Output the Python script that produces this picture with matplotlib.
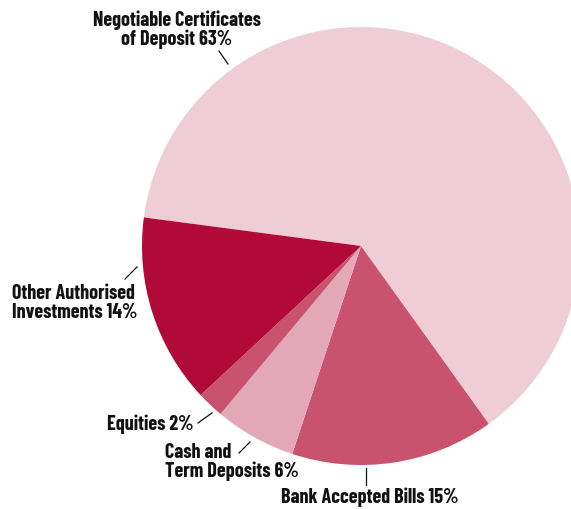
import matplotlib
matplotlib.use('Agg')
import matplotlib.pyplot as plt

# portfolio split (percent), clockwise from the top-left
labels = ['Negotiable Certificates\nof Deposit 63%', 'Bank Accepted Bills 15%',
          'Cash and\nTerm Deposits 6%', 'Equities 2%', 'Other Authorised\nInvestments 14%']
shares = [63, 15, 6, 2, 14]
colors = ['#EFCDD7', '#C9526F', '#E3A8B7', '#C9526F', '#B10A3A']

plt.rcParams['font.family'] = ['Barlow Condensed', 'DejaVu Sans']

fig = plt.figure(figsize=(5.71, 5.10), dpi=100)
# square axes in pixels so the pie sits where it does in the original (right side clipped)
ax = fig.add_axes([142 / 571, (510 - 466) / 510, 438 / 571, 438 / 510])
ax.pie(shares, colors=colors, startangle=172.5, counterclock=False, radius=1,
       wedgeprops=dict(linewidth=0))
ax.set_xlim(-1, 1)
ax.set_ylim(-1, 1)
ax.set_axis_off()

# labels and leader lines, placed in figure pixels
def px(x, y):
    return x / 571, 1 - y / 510

txt = dict(fontsize=14.5, fontweight='bold', color='#111111', linespacing=0.95)
fig.text(*px(177, 30), labels[0], ha='center', va='center', **txt)
fig.text(*px(370, 497), labels[1], ha='center', va='center', **txt)
fig.text(*px(165, 462), labels[2], ha='left', va='center', **txt)
fig.text(*px(107, 424), labels[3], ha='left', va='center', **txt)
fig.text(*px(12, 303), labels[4], ha='left', va='center', **txt)

leaders = [((219, 52), (228, 65)),
           ((366, 469), (366, 486)),
           ((239, 454), (250, 443)),
           ((198, 424), (212, 414)),
           ((125, 280), (137, 268))]
for (x0, y0), (x1, y1) in leaders:
    a, b = px(x0, y0)
    c, d = px(x1, y1)
    fig.add_artist(plt.Line2D([a, c], [b, d], color='#111111', linewidth=0.9))

fig.savefig('out.png', dpi=100)
